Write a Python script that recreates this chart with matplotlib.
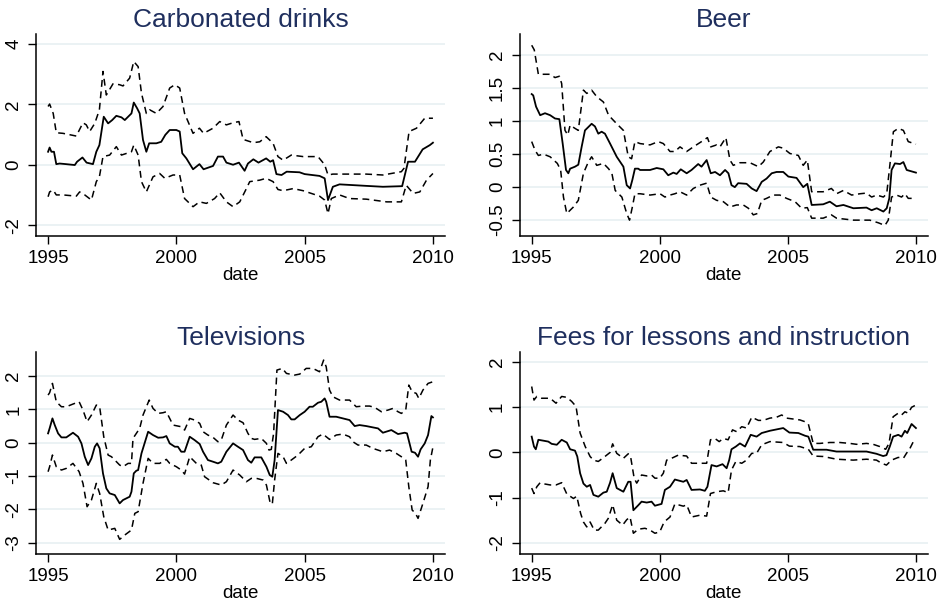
import matplotlib
matplotlib.use("Agg")
import matplotlib.pyplot as plt

plt.rcParams["font.family"] = ["Liberation Sans", "DejaVu Sans"]

# (date, value) pairs
carb_est = [(1995.0, 0.43), (1995.06, 0.57), (1995.13, 0.43), (1995.23, 0.43), (1995.32, 0.02),
            (1995.45, 0.04), (1995.7, 0.02), (1996.04, -0.01), (1996.13, 0.1), (1996.34, 0.24),
            (1996.5, 0.07), (1996.75, 0.02), (1996.88, 0.43), (1997.0, 0.65), (1997.17, 1.59),
            (1997.34, 1.37), (1997.5, 1.48), (1997.66, 1.62), (1997.86, 1.57), (1997.99, 1.48),
            (1998.25, 1.7), (1998.34, 2.06), (1998.47, 1.87), (1998.57, 1.7), (1998.7, 0.82),
            (1998.83, 0.43), (1998.94, 0.71), (1999.22, 0.71), (1999.41, 0.76), (1999.57, 0.99),
            (1999.74, 1.15), (2000.0, 1.15), (2000.13, 1.1), (2000.23, 0.38), (2000.39, 0.21),
            (2000.65, -0.15), (2000.9, 0.02), (2001.06, -0.15), (2001.43, -0.04), (2001.62, 0.27),
            (2001.82, 0.27), (2001.95, 0.07), (2002.21, 0.0), (2002.44, 0.07), (2002.66, -0.2),
            (2002.79, 0.04), (2003.0, 0.18), (2003.2, 0.07), (2003.5, 0.21), (2003.66, 0.1),
            (2003.77, 0.15), (2003.9, -0.31), (2004.1, -0.34), (2004.3, -0.23), (2004.8, -0.25),
            (2005.0, -0.31), (2005.58, -0.37), (2005.78, -0.45), (2005.91, -1.17), (2006.1, -0.73),
            (2006.36, -0.65), (2007.4, -0.7), (2008.05, -0.73), (2008.8, -0.71), (2009.03, 0.1),
            (2009.3, 0.1), (2009.6, 0.51), (2009.88, 0.65), (2010.0, 0.73)]
carb_hi = [(1995.0, 1.93), (1995.06, 2.01), (1995.2, 1.7), (1995.32, 1.06), (1995.58, 1.04),
           (1996.1, 0.95), (1996.36, 1.39), (1996.49, 1.32), (1996.62, 1.1), (1996.82, 1.37),
           (1997.0, 1.82), (1997.14, 3.09), (1997.27, 2.31), (1997.53, 2.68), (1997.79, 2.65),
           (1997.92, 2.61), (1998.18, 2.87), (1998.34, 3.42), (1998.51, 3.25), (1998.64, 2.37),
           (1998.83, 1.7), (1998.96, 1.82), (1999.22, 1.7), (1999.48, 1.93), (1999.74, 2.54),
           (1999.94, 2.65), (2000.13, 2.54), (2000.32, 1.7), (2000.65, 1.04), (2000.9, 1.21),
           (2001.06, 1.04), (2001.43, 1.21), (2001.69, 1.43), (2001.95, 1.32), (2002.21, 1.39),
           (2002.44, 1.43), (2002.6, 0.84), (2003.0, 0.73), (2003.25, 0.76), (2003.5, 0.93),
           (2003.77, 0.71), (2003.96, 0.27), (2004.16, 0.15), (2004.48, 0.32), (2004.94, 0.27),
           (2005.52, 0.27), (2005.78, 0.0), (2005.91, -0.34), (2006.1, -0.31), (2007.4, -0.31),
           (2008.05, -0.34), (2008.77, -0.23), (2008.87, -0.12), (2009.07, 1.1), (2009.36, 1.21),
           (2009.68, 1.54), (2010.0, 1.54)]
carb_lo = [(1995.0, -1.06), (1995.06, -0.9), (1995.2, -0.84), (1995.32, -1.0), (1995.58, -1.0),
           (1996.1, -1.04), (1996.23, -0.9), (1996.43, -1.0), (1996.69, -1.17), (1996.88, -0.56),
           (1997.0, -0.4), (1997.14, 0.27), (1997.4, 0.32), (1997.66, 0.6), (1997.86, 0.32),
           (1998.25, 0.43), (1998.34, 0.65), (1998.51, 0.32), (1998.64, -0.56), (1998.83, -0.9),
           (1999.09, -0.4), (1999.35, -0.29), (1999.55, -0.45), (1999.87, -0.34), (2000.13, -0.34),
           (2000.32, -1.12), (2000.65, -1.39), (2000.9, -1.23), (2001.17, -1.28), (2001.49, -1.12),
           (2001.69, -0.93), (2001.95, -1.23), (2002.21, -1.39), (2002.47, -1.23), (2002.7, -0.84),
           (2002.86, -0.56), (2003.25, -0.51), (2003.5, -0.45), (2003.77, -0.56), (2003.96, -0.82),
           (2004.16, -0.86), (2004.55, -0.79), (2004.94, -0.86), (2005.58, -1.04), (2005.78, -1.17),
           (2005.91, -1.62), (2006.04, -1.12), (2006.36, -1.0), (2006.75, -1.12), (2007.4, -1.14),
           (2008.2, -1.23), (2008.77, -1.23), (2008.96, -0.68), (2009.23, -0.95), (2009.49, -0.9),
           (2009.75, -0.51), (2010.0, -0.29)]

beer_est = [(1995.0, 1.41), (1995.06, 1.39), (1995.17, 1.22), (1995.33, 1.09), (1995.52, 1.12),
            (1995.72, 1.09), (1995.91, 1.04), (1996.08, 1.03), (1996.21, 0.66), (1996.34, 0.26),
            (1996.43, 0.21), (1996.5, 0.28), (1996.69, 0.31), (1996.82, 0.34), (1996.95, 0.61),
            (1997.08, 0.86), (1997.21, 0.91), (1997.34, 0.96), (1997.47, 0.92), (1997.6, 0.81),
            (1997.73, 0.84), (1997.86, 0.81), (1998.06, 0.66), (1998.32, 0.46), (1998.58, 0.31),
            (1998.71, 0.03), (1998.84, -0.02), (1998.93, 0.11), (1999.03, 0.28), (1999.16, 0.28),
            (1999.23, 0.26), (1999.62, 0.26), (1999.88, 0.29), (2000.14, 0.27), (2000.33, 0.18),
            (2000.53, 0.22), (2000.66, 0.2), (2000.82, 0.27), (2001.05, 0.21), (2001.24, 0.26),
            (2001.5, 0.35), (2001.63, 0.31), (2001.83, 0.41), (2001.99, 0.21), (2002.16, 0.23),
            (2002.35, 0.18), (2002.55, 0.26), (2002.68, 0.21), (2002.8, 0.03), (2002.93, 0.0),
            (2003.06, 0.06), (2003.39, 0.05), (2003.59, -0.02), (2003.78, -0.06), (2003.98, 0.08),
            (2004.17, 0.13), (2004.37, 0.21), (2004.56, 0.23), (2004.82, 0.23), (2005.02, 0.16),
            (2005.34, 0.14), (2005.6, 0.0), (2005.76, 0.05), (2005.93, -0.27), (2006.38, -0.26),
            (2006.64, -0.22), (2006.9, -0.29), (2007.17, -0.27), (2007.56, -0.32), (2008.07, -0.31),
            (2008.27, -0.35), (2008.47, -0.32), (2008.73, -0.37), (2008.86, -0.32), (2008.96, -0.17),
            (2009.05, 0.26), (2009.18, 0.36), (2009.38, 0.35), (2009.51, 0.38), (2009.64, 0.26),
            (2010.0, 0.22)]
beer_hi = [(1995.0, 2.15), (1995.1, 2.08), (1995.26, 1.71), (1995.46, 1.71), (1995.72, 1.71),
           (1995.91, 1.66), (1996.08, 1.68), (1996.17, 1.57), (1996.3, 0.86), (1996.41, 0.79),
           (1996.5, 0.94), (1996.69, 0.89), (1996.82, 0.86), (1997.02, 1.47), (1997.15, 1.42),
           (1997.34, 1.47), (1997.54, 1.37), (1997.8, 1.29), (1998.0, 1.09), (1998.32, 0.96),
           (1998.58, 0.86), (1998.77, 0.46), (1998.9, 0.43), (1999.03, 0.69), (1999.23, 0.66),
           (1999.62, 0.64), (1999.94, 0.69), (2000.14, 0.66), (2000.4, 0.54), (2000.59, 0.54),
           (2000.79, 0.61), (2001.05, 0.54), (2001.31, 0.61), (2001.63, 0.69), (2001.86, 0.75),
           (2001.99, 0.61), (2002.22, 0.64), (2002.35, 0.61), (2002.58, 0.75), (2002.74, 0.41),
           (2002.87, 0.33), (2003.13, 0.37), (2003.52, 0.37), (2003.85, 0.31), (2004.04, 0.38),
           (2004.3, 0.54), (2004.63, 0.61), (2004.82, 0.59), (2005.08, 0.51), (2005.41, 0.48),
           (2005.6, 0.33), (2005.76, 0.41), (2005.93, -0.07), (2006.38, -0.07), (2006.7, -0.02),
           (2006.9, -0.1), (2007.17, -0.05), (2007.49, -0.12), (2007.82, -0.1), (2008.07, -0.09),
           (2008.27, -0.15), (2008.47, -0.12), (2008.73, -0.15), (2008.86, -0.1), (2008.99, 0.36),
           (2009.12, 0.84), (2009.31, 0.89), (2009.51, 0.86), (2009.7, 0.69), (2010.0, 0.65)]
beer_lo = [(1995.0, 0.69), (1995.13, 0.56), (1995.26, 0.48), (1995.46, 0.5), (1995.72, 0.46),
           (1996.0, 0.36), (1996.13, 0.26), (1996.24, -0.15), (1996.37, -0.4), (1996.5, -0.35),
           (1996.63, -0.3), (1996.82, -0.2), (1997.02, 0.21), (1997.21, 0.38), (1997.34, 0.46),
           (1997.54, 0.33), (1997.8, 0.36), (1998.0, 0.28), (1998.13, 0.21), (1998.26, -0.05),
           (1998.52, -0.15), (1998.71, -0.4), (1998.82, -0.5), (1998.93, -0.3), (1999.03, -0.1),
           (1999.23, -0.1), (1999.62, -0.12), (2000.01, -0.1), (2000.2, -0.15), (2000.4, -0.12),
           (2000.59, -0.1), (2000.79, -0.07), (2001.05, -0.12), (2001.31, -0.02), (2001.57, 0.03),
           (2001.83, 0.06), (2001.99, -0.15), (2002.22, -0.2), (2002.48, -0.22), (2002.74, -0.3),
           (2003.0, -0.27), (2003.26, -0.27), (2003.46, -0.32), (2003.65, -0.42), (2003.81, -0.4),
           (2003.98, -0.2), (2004.17, -0.17), (2004.43, -0.12), (2004.69, -0.12), (2004.95, -0.17),
           (2005.28, -0.22), (2005.54, -0.32), (2005.76, -0.31), (2005.93, -0.47), (2006.38, -0.47),
           (2006.7, -0.42), (2006.9, -0.47), (2007.56, -0.5), (2008.2, -0.5), (2008.53, -0.54),
           (2008.79, -0.58), (2008.92, -0.5), (2009.05, -0.15), (2009.24, -0.12), (2009.44, -0.15),
           (2009.57, -0.1), (2009.7, -0.17), (2010.0, -0.17)]

tv_est = [(1995.0, 0.28), (1995.06, 0.43), (1995.17, 0.73), (1995.26, 0.53), (1995.39, 0.28),
          (1995.52, 0.16), (1995.71, 0.16), (1995.97, 0.3), (1996.17, 0.18), (1996.3, -0.02),
          (1996.43, -0.42), (1996.56, -0.67), (1996.69, -0.47), (1996.82, -0.12), (1996.91, -0.02),
          (1997.01, -0.17), (1997.14, -0.92), (1997.27, -1.37), (1997.4, -1.52), (1997.6, -1.57),
          (1997.79, -1.82), (1997.92, -1.72), (1998.05, -1.67), (1998.18, -1.62), (1998.25, -1.47),
          (1998.34, -0.92), (1998.44, -0.84), (1998.51, -0.82), (1998.64, -0.32), (1998.9, 0.33),
          (1999.09, 0.23), (1999.29, 0.15), (1999.48, 0.16), (1999.61, 0.2), (1999.74, -0.02),
          (1999.94, -0.12), (2000.06, -0.12), (2000.19, -0.27), (2000.32, -0.27), (2000.52, 0.18),
          (2000.71, 0.08), (2000.91, -0.04), (2001.04, -0.27), (2001.23, -0.52), (2001.43, -0.57),
          (2001.62, -0.62), (2001.75, -0.57), (2001.95, -0.27), (2002.21, -0.02), (2002.4, -0.12),
          (2002.6, -0.22), (2002.79, -0.52), (2002.92, -0.6), (2003.05, -0.44), (2003.31, -0.44),
          (2003.51, -0.72), (2003.64, -0.97), (2003.74, -1.02), (2003.83, -0.52), (2003.96, 0.98),
          (2004.16, 0.93), (2004.35, 0.83), (2004.48, 0.7), (2004.61, 0.7), (2004.81, 0.83),
          (2005.0, 0.93), (2005.19, 1.08), (2005.32, 1.08), (2005.52, 1.2), (2005.65, 1.23),
          (2005.78, 1.33), (2005.84, 1.23), (2005.97, 0.78), (2006.23, 0.78), (2006.49, 0.73),
          (2006.75, 0.68), (2006.95, 0.5), (2007.14, 0.53), (2007.4, 0.5), (2007.66, 0.46),
          (2007.86, 0.43), (2008.05, 0.3), (2008.38, 0.38), (2008.64, 0.26), (2008.9, 0.3),
          (2008.99, 0.28), (2009.17, -0.27), (2009.3, -0.3), (2009.42, -0.42), (2009.52, -0.2),
          (2009.68, -0.02), (2009.81, 0.23), (2009.94, 0.8), (2010.0, 0.76)]
tv_hi = [(1995.0, 1.43), (1995.06, 1.5), (1995.17, 1.78), (1995.32, 1.23), (1995.52, 1.08),
         (1995.71, 1.08), (1995.97, 1.16), (1996.21, 1.23), (1996.36, 0.98), (1996.52, 0.63),
         (1996.69, 0.83), (1996.88, 1.13), (1997.01, 1.08), (1997.17, 0.18), (1997.34, -0.37),
         (1997.47, -0.42), (1997.6, -0.52), (1997.79, -0.67), (1997.92, -0.72), (1998.12, -0.62),
         (1998.25, -0.62), (1998.31, 0.13), (1998.44, 0.28), (1998.57, 0.43), (1998.7, 0.83),
         (1998.94, 1.28), (1999.09, 1.03), (1999.29, 0.88), (1999.48, 0.9), (1999.61, 0.93),
         (1999.74, 0.73), (1999.87, 0.53), (2000.19, 0.48), (2000.32, 0.38), (2000.52, 0.73),
         (2000.71, 0.68), (2000.91, 0.58), (2001.04, 0.33), (2001.23, 0.23), (2001.43, 0.16),
         (2001.62, 0.03), (2001.75, 0.08), (2001.95, 0.53), (2002.21, 0.83), (2002.4, 0.68),
         (2002.6, 0.6), (2002.79, 0.28), (2002.92, 0.13), (2003.05, 0.1), (2003.31, 0.13),
         (2003.51, -0.02), (2003.61, -0.22), (2003.7, -0.2), (2003.79, 0.28), (2003.92, 2.18),
         (2004.13, 2.23), (2004.29, 2.08), (2004.61, 2.03), (2004.81, 2.06), (2005.06, 2.23),
         (2005.32, 2.23), (2005.58, 2.13), (2005.74, 2.48), (2005.84, 2.28), (2005.97, 1.58),
         (2006.1, 1.38), (2006.36, 1.28), (2006.75, 1.28), (2007.01, 1.08), (2007.27, 1.1),
         (2007.53, 1.1), (2007.73, 1.06), (2007.99, 0.93), (2008.25, 0.98), (2008.44, 1.03),
         (2008.64, 0.93), (2008.77, 0.88), (2008.94, 0.98), (2009.06, 1.73), (2009.19, 1.53),
         (2009.35, 1.48), (2009.45, 1.33), (2009.61, 1.58), (2009.81, 1.78), (2010.0, 1.83)]
tv_lo = [(1995.0, -0.87), (1995.06, -0.72), (1995.17, -0.37), (1995.32, -0.72), (1995.52, -0.82),
         (1995.71, -0.77), (1995.97, -0.62), (1996.21, -0.87), (1996.36, -1.22), (1996.52, -1.92),
         (1996.69, -1.72), (1996.88, -1.22), (1997.01, -1.52), (1997.17, -2.22), (1997.34, -2.62),
         (1997.6, -2.57), (1997.79, -2.9), (1997.99, -2.77), (1998.25, -2.62), (1998.38, -2.12),
         (1998.51, -2.07), (1998.7, -1.22), (1998.9, -0.47), (1999.09, -0.62), (1999.35, -0.62),
         (1999.61, -0.5), (1999.74, -0.62), (2000.0, -0.72), (2000.19, -0.82), (2000.32, -0.94),
         (2000.52, -0.42), (2000.78, -0.62), (2000.97, -0.67), (2001.1, -1.02), (2001.43, -1.2),
         (2001.75, -1.27), (2001.95, -1.17), (2002.21, -0.82), (2002.47, -0.97), (2002.73, -1.17),
         (2002.92, -1.07), (2003.12, -1.07), (2003.38, -1.12), (2003.51, -1.27), (2003.66, -1.82),
         (2003.74, -1.84), (2003.83, -1.12), (2003.96, -0.32), (2004.16, -0.42), (2004.29, -0.62),
         (2004.48, -0.52), (2004.74, -0.37), (2005.0, -0.17), (2005.26, -0.12), (2005.52, 0.18),
         (2005.71, 0.26), (2005.97, 0.1), (2006.23, 0.23), (2006.49, 0.26), (2006.75, 0.18),
         (2006.88, 0.03), (2007.08, -0.07), (2007.4, -0.07), (2007.66, -0.17), (2008.05, -0.27),
         (2008.31, -0.22), (2008.57, -0.32), (2008.77, -0.42), (2008.94, -0.52), (2009.06, -1.32),
         (2009.19, -2.02), (2009.32, -2.12), (2009.42, -2.27), (2009.61, -1.82), (2009.81, -1.32),
         (2009.9, -0.52), (2009.99, -0.17)]

fees_est = [(1995.0, 0.35), (1995.09, 0.13), (1995.16, 0.07), (1995.26, 0.28), (1995.46, 0.26),
            (1995.65, 0.24), (1995.78, 0.19), (1995.98, 0.17), (1996.17, 0.28), (1996.37, 0.22),
            (1996.5, 0.07), (1996.69, 0.04), (1996.78, -0.09), (1996.89, -0.46), (1997.02, -0.69),
            (1997.15, -0.76), (1997.28, -0.72), (1997.41, -0.94), (1997.6, -0.98), (1997.8, -0.89),
            (1997.93, -0.87), (1998.06, -0.67), (1998.16, -0.46), (1998.32, -0.79), (1998.58, -0.87),
            (1998.77, -0.65), (1998.86, -0.65), (1998.97, -1.28), (1999.16, -1.17), (1999.29, -1.09),
            (1999.49, -1.11), (1999.68, -1.09), (1999.81, -1.18), (2000.07, -1.14), (2000.2, -0.83),
            (2000.4, -0.76), (2000.59, -0.6), (2000.92, -0.65), (2001.05, -0.61), (2001.24, -0.83),
            (2001.57, -0.82), (2001.76, -0.85), (2001.86, -0.76), (2002.02, -0.28), (2002.22, -0.31),
            (2002.45, -0.26), (2002.61, -0.35), (2002.71, -0.17), (2002.8, 0.07), (2002.97, 0.13),
            (2003.13, 0.2), (2003.33, 0.13), (2003.55, 0.39), (2003.78, 0.35), (2003.98, 0.43),
            (2004.3, 0.48), (2004.56, 0.51), (2004.82, 0.54), (2005.06, 0.44), (2005.41, 0.43),
            (2005.67, 0.37), (2005.8, 0.35), (2005.99, 0.06), (2006.51, 0.06), (2006.9, 0.02),
            (2007.55, 0.02), (2008.07, 0.02), (2008.46, -0.03), (2008.72, -0.08), (2008.85, -0.06),
            (2008.98, 0.13), (2009.11, 0.35), (2009.31, 0.39), (2009.44, 0.35), (2009.57, 0.48),
            (2009.66, 0.43), (2009.83, 0.63), (2010.0, 0.54)]
fees_hi = [(1995.0, 1.46), (1995.09, 1.16), (1995.2, 1.24), (1995.39, 1.2), (1995.72, 1.2),
           (1995.95, 1.09), (1996.17, 1.24), (1996.37, 1.22), (1996.56, 1.13), (1996.73, 1.02),
           (1996.89, 0.43), (1997.09, 0.13), (1997.28, -0.09), (1997.41, -0.17), (1997.6, -0.2),
           (1997.86, -0.09), (1998.06, 0.0), (1998.16, 0.19), (1998.32, -0.02), (1998.58, -0.13),
           (1998.77, -0.03), (1998.86, -0.09), (1999.0, -0.57), (1999.1, -0.68), (1999.29, -0.5),
           (1999.49, -0.52), (1999.68, -0.5), (1999.81, -0.57), (2000.0, -0.57), (2000.14, -0.46),
           (2000.27, -0.17), (2000.46, -0.13), (2000.72, -0.06), (2001.05, -0.08), (2001.24, -0.24),
           (2001.57, -0.24), (2001.83, -0.24), (2001.98, 0.28), (2002.15, 0.31), (2002.32, 0.24),
           (2002.48, 0.31), (2002.67, 0.28), (2002.84, 0.5), (2003.0, 0.46), (2003.2, 0.57),
           (2003.39, 0.54), (2003.59, 0.78), (2003.85, 0.71), (2004.04, 0.71), (2004.3, 0.76),
           (2004.56, 0.78), (2004.76, 0.83), (2004.95, 0.76), (2005.21, 0.74), (2005.47, 0.72),
           (2005.67, 0.68), (2005.8, 0.63), (2005.99, 0.2), (2006.25, 0.2), (2006.64, 0.22),
           (2007.03, 0.22), (2007.42, 0.2), (2007.68, 0.18), (2008.07, 0.2), (2008.33, 0.18),
           (2008.59, 0.13), (2008.82, 0.07), (2008.95, 0.2), (2009.11, 0.79), (2009.31, 0.87),
           (2009.44, 0.83), (2009.57, 0.9), (2009.7, 0.87), (2009.83, 1.0), (2010.0, 1.05)]
fees_lo = [(1995.0, -0.79), (1995.09, -0.91), (1995.2, -0.76), (1995.33, -0.67), (1995.52, -0.7),
           (1995.72, -0.72), (1995.95, -0.72), (1996.17, -0.67), (1996.37, -0.92), (1996.63, -1.02),
           (1996.76, -0.97), (1996.91, -1.35), (1997.02, -1.54), (1997.15, -1.65), (1997.28, -1.54),
           (1997.44, -1.72), (1997.6, -1.72), (1997.86, -1.57), (1997.99, -1.46), (1998.16, -1.16),
           (1998.32, -1.5), (1998.55, -1.61), (1998.71, -1.49), (1998.84, -1.43), (1998.97, -1.79),
           (1999.16, -1.7), (1999.42, -1.68), (1999.62, -1.72), (1999.81, -1.79), (2000.0, -1.76),
           (2000.17, -1.54), (2000.4, -1.43), (2000.59, -1.14), (2000.92, -1.19), (2001.05, -1.16),
           (2001.24, -1.43), (2001.57, -1.39), (2001.83, -1.41), (2001.98, -0.91), (2002.22, -0.87),
           (2002.48, -0.85), (2002.67, -0.89), (2002.8, -0.39), (2002.97, -0.2), (2003.2, -0.24),
           (2003.39, -0.17), (2003.59, -0.02), (2003.78, -0.02), (2003.98, 0.17), (2004.3, 0.24),
           (2004.82, 0.22), (2005.06, 0.14), (2005.47, 0.13), (2005.8, 0.07), (2005.99, -0.08),
           (2006.38, -0.09), (2006.9, -0.15), (2007.55, -0.17), (2008.07, -0.15), (2008.46, -0.17),
           (2008.66, -0.24), (2008.85, -0.28), (2009.05, -0.17), (2009.31, -0.11), (2009.51, -0.13),
           (2009.63, -0.02), (2009.74, 0.06), (2009.9, 0.24), (2010.0, 0.2)]

titles = ["Carbonated drinks", "Beer", "Televisions", "Fees for lessons and instruction"]
year_ticks = [1995, 2000, 2005, 2010]
carb_yticks = [-2, 0, 2, 4]
beer_yticks = [-0.5, 0, 0.5, 1, 1.5, 2]
beer_ylabels = ["-0.5", "0", "0.5", "1", "1.5", "2"]
tv_yticks = [-3, -2, -1, 0, 1, 2]
fees_yticks = [-2, -1, 0, 1, 2]

TITLE_COLOR = "#1f2f5e"
GRID_COLOR = "#e8f0f2"


def panel(ax, title, est, lo, hi, yticks, ylabels, ylim):
    """One Stata-style panel: estimate plus dashed bounds."""
    for band in (hi, lo):
        t, v = zip(*band)
        ax.plot(t, v, color="black", lw=1.1, ls=(0, (4.5, 3)))
    t, v = zip(*est)
    ax.plot(t, v, color="black", lw=1.3)

    ax.set_xlim(1994.53, 2010.47)
    ax.set_ylim(*ylim)
    ax.set_xticks(year_ticks)
    ax.set_xticklabels([str(y) for y in year_ticks])
    ax.set_yticks(yticks)
    ax.set_yticklabels(ylabels, rotation=90, va="center")
    ax.grid(axis="y", color=GRID_COLOR, lw=1.2)
    ax.set_axisbelow(True)
    for side in ("top", "right"):
        ax.spines[side].set_visible(False)
    for side in ("left", "bottom"):
        ax.spines[side].set_linewidth(1.1)
    ax.tick_params(length=6, width=1.0, pad=4, labelsize=13.5)
    ax.set_xlabel("date", fontsize=13.5, labelpad=0)
    ax.set_title(title, fontsize=19, color=TITLE_COLOR, pad=5)


fig = plt.figure(figsize=(9.38, 6.02), dpi=100)
ax1 = fig.add_axes([0.0384, 0.608, 0.436, 0.3355])
ax2 = fig.add_axes([0.554, 0.608, 0.4353, 0.3355])
ax3 = fig.add_axes([0.0384, 0.0797, 0.436, 0.336])
ax4 = fig.add_axes([0.554, 0.0797, 0.4353, 0.336])

panel(ax1, titles[0], carb_est, carb_lo, carb_hi, carb_yticks,
      [str(v) for v in carb_yticks], (-2.36, 4.33))
panel(ax2, titles[1], beer_est, beer_lo, beer_hi, beer_yticks, beer_ylabels, (-0.74, 2.32))
panel(ax3, titles[2], tv_est, tv_lo, tv_hi, tv_yticks,
      [str(v) for v in tv_yticks], (-3.34, 2.73))
panel(ax4, titles[3], fees_est, fees_lo, fees_hi, fees_yticks,
      [str(v) for v in fees_yticks], (-2.25, 2.23))

fig.savefig("out.png", dpi=100)
